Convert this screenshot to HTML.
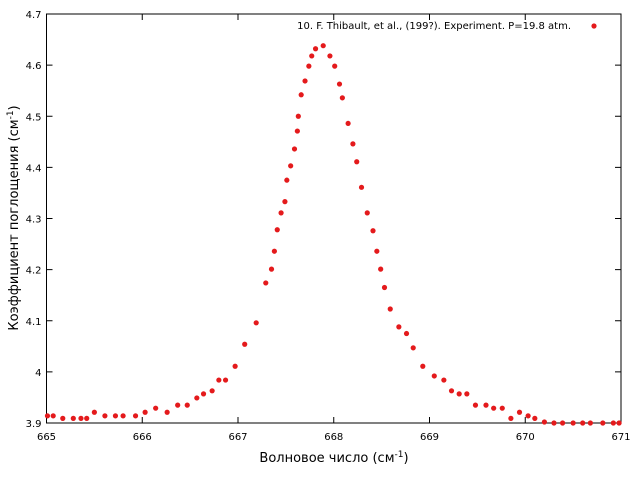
<!DOCTYPE html>
<html><head><meta charset="utf-8"><style>
html,body{margin:0;padding:0;background:#fff;}
svg{display:block;font-family:"DejaVu Sans","Liberation Sans",sans-serif;}
</style></head><body>
<svg id="chart" width="640" height="480" viewBox="0 0 640 480" xmlns="http://www.w3.org/2000/svg">
<rect x="0" y="0" width="640" height="480" fill="#fff"/>
<g id="axes"></g>
<g id="points"></g>
<text x="334" y="462" font-size="13" text-anchor="middle" fill="#000">Волновое число (см<tspan dy="-5" font-size="9">-1</tspan><tspan dy="5">)</tspan></text>
<text transform="translate(18,218) rotate(-90)" font-size="13" text-anchor="middle" fill="#000">Коэффициент поглощения (см<tspan dy="-5" font-size="9">-1</tspan><tspan dy="5">)</tspan></text>
<g>
<text x="571" y="29" font-size="10" text-anchor="end" fill="#000">10. F. Thibault, et al., (199?). Experiment. P=19.8 atm.</text>
<circle cx="594" cy="26" r="2.6" fill="#e41a1c"/>
</g>
</svg>
<script>
const xTicks=[665,666,667,668,669,670,671];
const yTicks=[3.9,4,4.1,4.2,4.3,4.4,4.5,4.6,4.7];
const yTickLabels=["3.9","4","4.1","4.2","4.3","4.4","4.5","4.6","4.7"];
const xValues=[665.01,665.07,665.17,665.28,665.36,665.42,665.50,665.61,665.72,665.80,665.93,666.03,666.14,666.26,666.37,666.47,666.57,666.64,666.73,666.80,666.87,666.97,667.07,667.19,667.29,667.35,667.38,667.41,667.45,667.49,667.51,667.55,667.59,667.62,667.63,667.66,667.70,667.74,667.77,667.81,667.89,667.96,668.01,668.06,668.09,668.15,668.20,668.24,668.29,668.35,668.41,668.45,668.49,668.53,668.59,668.68,668.76,668.83,668.93,669.05,669.15,669.23,669.31,669.39,669.48,669.59,669.67,669.76,669.85,669.94,670.03,670.10,670.20,670.30,670.39,670.50,670.60,670.68,670.81,670.92,670.98];
const yValues=[3.914,3.914,3.909,3.909,3.909,3.909,3.921,3.914,3.914,3.914,3.914,3.921,3.929,3.921,3.935,3.935,3.949,3.957,3.963,3.984,3.984,4.011,4.054,4.096,4.174,4.201,4.236,4.278,4.311,4.333,4.375,4.403,4.436,4.471,4.500,4.542,4.569,4.598,4.618,4.632,4.638,4.618,4.598,4.563,4.536,4.486,4.446,4.411,4.361,4.311,4.276,4.236,4.201,4.165,4.123,4.088,4.075,4.047,4.011,3.992,3.984,3.963,3.957,3.957,3.935,3.935,3.929,3.929,3.909,3.921,3.914,3.909,3.902,3.900,3.900,3.900,3.900,3.900,3.900,3.900,3.900];
const X0=46.5,X1=621,Y0=423,Y1=14;
function sx(v){return X0+(v-665)/(671-665)*(X1-X0);}
function sy(v){return Y0-(v-3.9)/(4.7-3.9)*(Y0-Y1);}
const NS="http://www.w3.org/2000/svg";
const axes=document.getElementById('axes');
function mk(tag,attrs,parent){const e=document.createElementNS(NS,tag);for(const k in attrs)e.setAttribute(k,attrs[k]);parent.appendChild(e);return e;}
const frame=mk('rect',{x:X0,y:Y1,width:X1-X0,height:Y0-Y1,fill:'none',stroke:'#000','stroke-width':1},axes);


xTicks.forEach(function(t){
  const x=sx(t);
  const a=mk('line',{x1:x,y1:Y0,x2:x,y2:Y0-6,stroke:'#000'},axes);
  
  
  const b=mk('line',{x1:x,y1:Y1,x2:x,y2:Y1+6,stroke:'#000'},axes);
  
  
  const l=mk('text',{x:x,y:Y0+17,'font-size':10,'text-anchor':'middle',fill:'#000'},axes);
  l.textContent=String(t);
  
  
});
yTicks.forEach(function(t,i){
  const y=sy(t);
  const a=mk('line',{x1:X0,y1:y,x2:X0+6,y2:y,stroke:'#000'},axes);
  
  
  const b=mk('line',{x1:X1,y1:y,x2:X1-6,y2:y,stroke:'#000'},axes);
  
  
  const l=mk('text',{x:X0-5,y:y+4,'font-size':10,'text-anchor':'end',fill:'#000'},axes);
  l.textContent=yTickLabels[i];
  
  
});
const pts=document.getElementById('points');
xValues.forEach(function(xv,i){
  const c=mk('circle',{cx:sx(xv),cy:sy(yValues[i]),r:2.6,fill:'#e41a1c'},pts);
  
  
});
</script>
</body></html>
